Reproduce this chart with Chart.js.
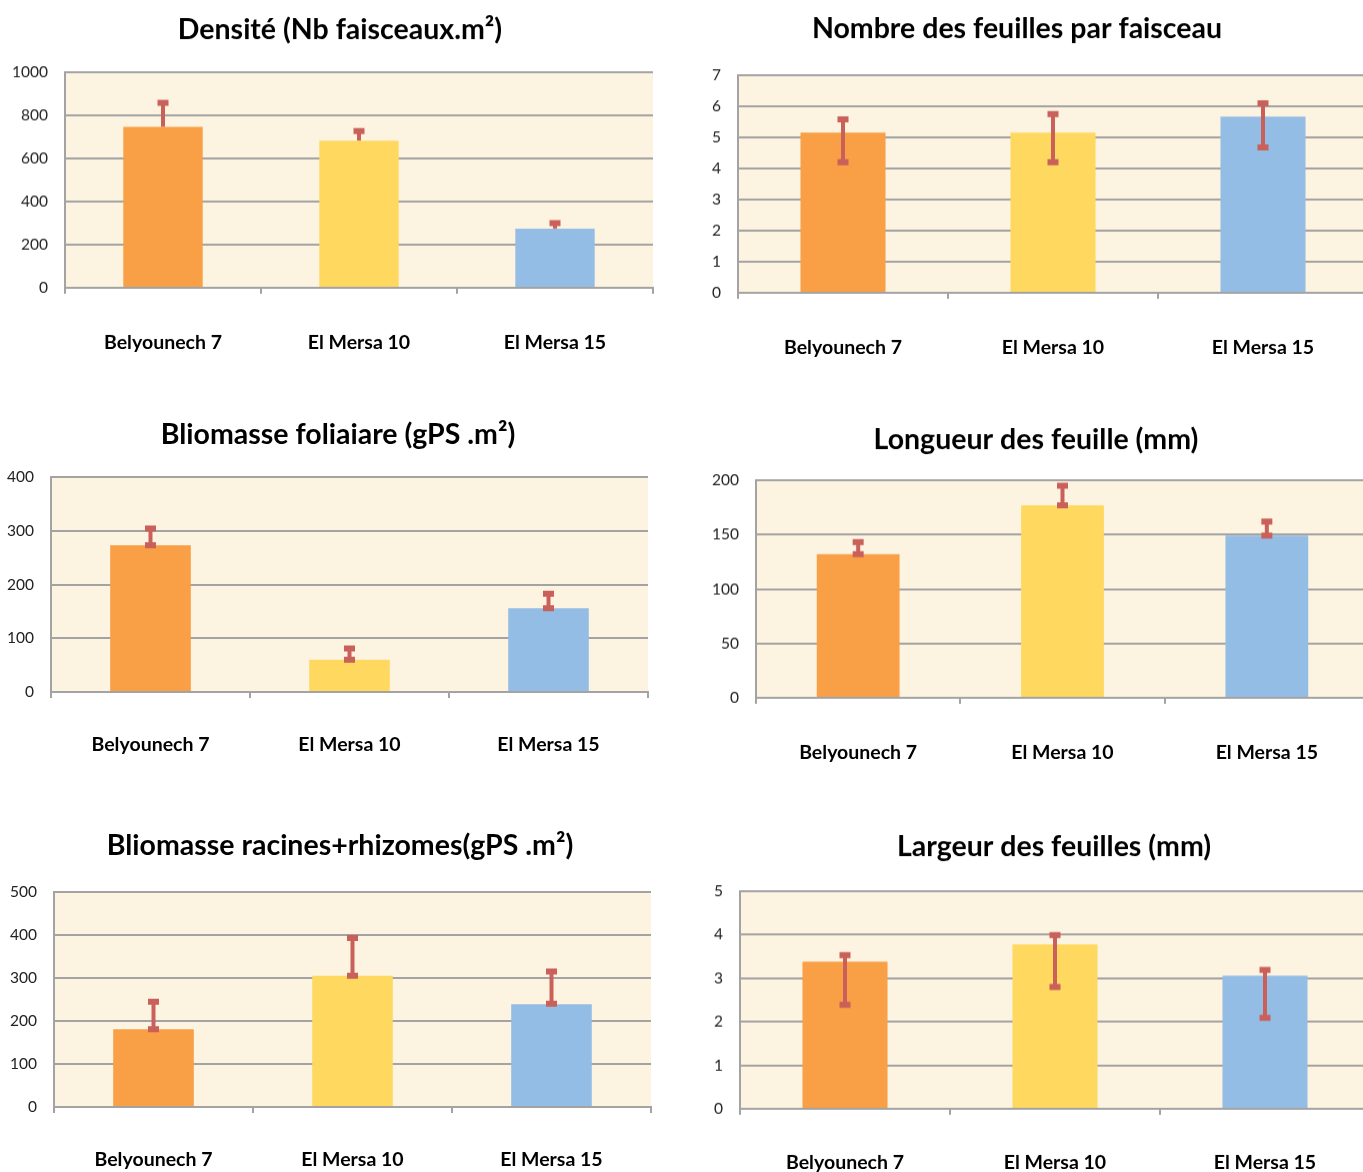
<!DOCTYPE html>
<html>
<head>
<meta charset="utf-8">
<script src="https://cdn.jsdelivr.net/npm/chart.js@4.4.1/dist/chart.umd.min.js"></script>
<style>
  html, body { margin: 0; padding: 0; background: #fff; overflow: hidden; width: 1363px; height: 1172px; position: relative; }
  .box { position: absolute; }
</style>
</head>
<body>
<div class="box" id="b0"><canvas id="c0"></canvas></div>
<div class="box" id="b1"><canvas id="c1"></canvas></div>
<div class="box" id="b2"><canvas id="c2"></canvas></div>
<div class="box" id="b3"><canvas id="c3"></canvas></div>
<div class="box" id="b4"><canvas id="c4"></canvas></div>
<div class="box" id="b5"><canvas id="c5"></canvas></div>
<script>
// --- données ---
const categories = ["Belyounech 7", "El Mersa 10", "El Mersa 15"];

const titles = [
  "Densité (Nb faisceaux.m²)",
  "Nombre des feuilles par faisceau",
  "Bliomasse foliaiare (gPS .m²)",
  "Longueur des feuille (mm)",
  "Bliomasse racines+rhizomes(gPS .m²)",
  "Largeur des feuilles (mm)",
];

// valeurs moyennes + bornes des barres d'erreur (bas / haut)
const densite = [747, 683, 275];
const densiteLow = [747, 683, 275];
const densiteHigh = [858, 727, 300];

const nbFeuilles = [5.15, 5.15, 5.67];
const nbFeuillesLow = [4.2, 4.2, 4.68];
const nbFeuillesHigh = [5.58, 5.75, 6.1];

const biomFoliaire = [273, 60, 156];
const biomFoliaireLow = [273, 60, 156];
const biomFoliaireHigh = [304, 81, 183];

const longueur = [132, 177, 149];
const longueurLow = [132, 177, 149];
const longueurHigh = [143, 195, 162];

const biomRacines = [181, 305, 239];
const biomRacinesLow = [181, 305, 240];
const biomRacinesHigh = [245, 393, 315];

const largeur = [3.38, 3.78, 3.06];
const largeurLow = [2.39, 2.8, 2.09];
const largeurHigh = [3.53, 3.99, 3.19];

// axes Y : max / pas
const yMax = [1000, 7, 400, 200, 500, 5];
const yStep = [200, 1, 100, 50, 100, 1];

// --- styles ---
const barColors = ["#F99F45", "#FFD95F", "#94BDE6"];
const plotBg = "#FDF3E1";
const gridColor = "#A3A3A3";
const errColor = "#C9605A";
const FONT = "Lato, 'Open Sans', sans-serif";

// mise en page : zone de tracé [l, t, r, b], centre du titre [x, y], y des libellés
const layouts = [
  { x0: 0,   plot: [65, 72, 653, 287],    title: [340, 30],   labelY: 341.5, lowCap: false },
  { x0: 660, plot: [738, 75, 1368, 292],  title: [1017, 29],  labelY: 346.5, lowCap: true },
  { x0: 0,   plot: [51, 477, 648, 692],   title: [338, 435],  labelY: 745,   lowCap: true },
  { x0: 660, plot: [756, 480, 1369, 697], title: [1036, 440], labelY: 751.5, lowCap: true },
  { x0: 0,   plot: [54, 892, 651, 1107],  title: [340, 846],  labelY: 1160,  lowCap: true },
  { x0: 660, plot: [740, 891, 1370, 1108],title: [1054, 847], labelY: 1161.5,lowCap: true },
];

const series = [
  [densite, densiteLow, densiteHigh],
  [nbFeuilles, nbFeuillesLow, nbFeuillesHigh],
  [biomFoliaire, biomFoliaireLow, biomFoliaireHigh],
  [longueur, longueurLow, longueurHigh],
  [biomRacines, biomRacinesLow, biomRacinesHigh],
  [largeur, largeurLow, largeurHigh],
];

// fond crème de la zone de tracé
const plotBackground = {
  id: "plotBackground",
  beforeDraw(chart) {
    const { ctx, chartArea: a } = chart;
    ctx.save();
    ctx.fillStyle = plotBg;
    ctx.fillRect(a.left, a.top, a.right - a.left, a.bottom - a.top);
    ctx.restore();
  },
};

// barres d'erreur (bornes en valeurs, converties par l'échelle Y)
const errorBars = {
  id: "errorBars",
  afterDatasetsDraw(chart, args, opts) {
    const { ctx } = chart;
    const y = chart.scales.y;
    const meta = chart.getDatasetMeta(0);
    ctx.save();
    ctx.strokeStyle = errColor;
    ctx.lineCap = "butt";
    meta.data.forEach((bar, i) => {
      const x = bar.x;
      const yh = y.getPixelForValue(opts.high[i]);
      const yl = y.getPixelForValue(opts.low[i]);
      ctx.lineWidth = 4;
      ctx.beginPath();
      ctx.moveTo(x, yh);
      ctx.lineTo(x, yl);
      ctx.stroke();
      ctx.lineWidth = 6;
      ctx.beginPath();
      ctx.moveTo(x - 5.5, yh);
      ctx.lineTo(x + 5.5, yh);
      if (opts.lowCap) {
        ctx.moveTo(x - 5.5, yl);
        ctx.lineTo(x + 5.5, yl);
      }
      ctx.stroke();
    });
    ctx.restore();
  },
};

function makeChart(i) {
  const L = layouts[i];
  const [pl, pt, pr, pb] = L.plot;
  const [tcx, tcy] = L.title;
  const [values, low, high] = series[i];

  // le titre est centré sur la largeur du canvas ; un axe vide à droite fixe le bord droit du tracé
  const x0 = L.x0;
  const y0 = tcy - 30;
  const W = 2 * (tcx - x0);
  const H = L.labelY + 22 - y0;
  const yAxisW = pl - x0;
  const rightW = x0 + W - pr;
  const xAxisH = y0 + H - pb;

  const box = document.getElementById("b" + i);
  box.style.left = x0 + "px";
  box.style.top = y0 + "px";
  box.style.width = W + "px";
  box.style.height = H + "px";

  const tickLen = 6;
  const labelLH = 22;

  return new Chart(document.getElementById("c" + i), {
    type: "bar",
    data: {
      labels: categories,
      datasets: [{
        data: values,
        backgroundColor: barColors,
        borderWidth: 0,
        categoryPercentage: 1,
        barPercentage: 0.405,
      }],
    },
    options: {
      responsive: true,
      maintainAspectRatio: false,
      animation: false,
      events: [],
      layout: { padding: 0 },
      plugins: {
        legend: { display: false },
        tooltip: { enabled: false },
        title: {
          display: true,
          text: titles[i],
          color: "#000",
          font: { family: FONT, size: 28.5, weight: "bold", lineHeight: "30px" },
          padding: { top: 15, bottom: pt - tcy - 15 },
        },
        errorBars: { low, high, lowCap: L.lowCap },
      },
      scales: {
        x: {
          afterFit(s) { s.height = xAxisH; },
          grid: {
            offset: true,
            drawOnChartArea: false,
            drawTicks: true,
            tickLength: tickLen,
            color: gridColor,
            lineWidth: 2,
          },
          border: { display: true, color: gridColor, width: 2 },
          ticks: {
            color: "#000",
            font: { family: FONT, size: 19.5, weight: "bold", lineHeight: labelLH + "px" },
            padding: L.labelY - pb - tickLen - labelLH / 2,
            maxRotation: 0,
            autoSkip: false,
          },
        },
        y: {
          min: 0,
          max: yMax[i],
          afterFit(s) { s.width = yAxisW; },
          grid: { color: gridColor, lineWidth: 2, drawTicks: false },
          border: { display: true, color: gridColor, width: 2 },
          ticks: {
            stepSize: yStep[i],
            color: "#222",
            padding: 17,
            font: { family: FONT, size: 15.5 },
            callback: (v) => String(v),
          },
        },
        spacer: {
          type: "linear",
          position: "right",
          afterFit(s) { s.width = rightW; },
          grid: { display: false },
          border: { display: false },
          ticks: { display: false },
        },
      },
    },
    plugins: [plotBackground, errorBars],
  });
}

for (let i = 0; i < 6; i++) makeChart(i);
</script>
</body>
</html>
